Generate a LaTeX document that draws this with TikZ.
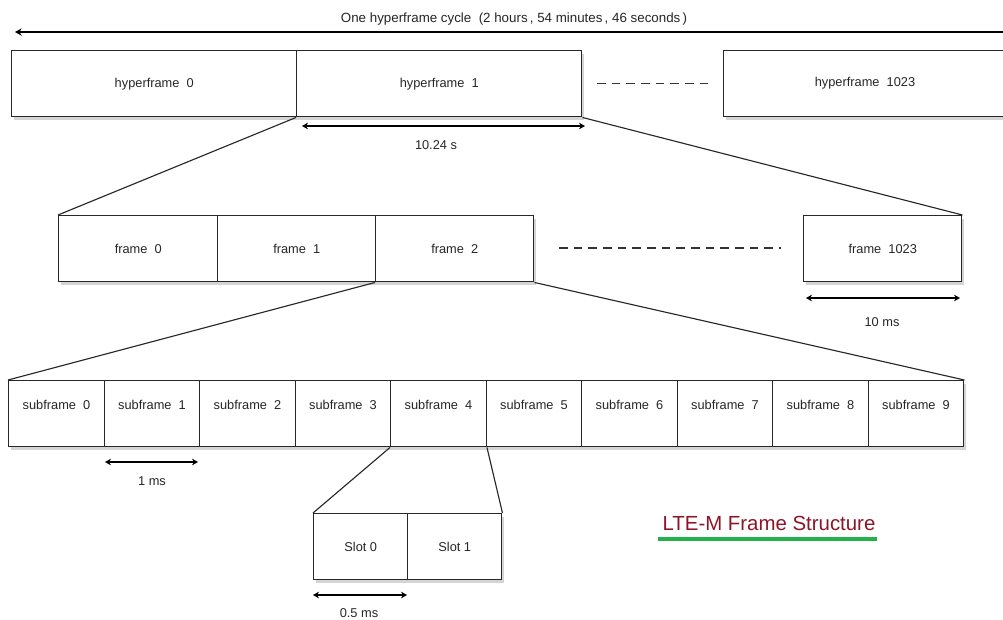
\documentclass[tikz,border=0pt]{standalone}
\usepackage{fontspec}
\setmainfont{Liberation Sans}
\usetikzlibrary{shadows,arrows.meta}
\definecolor{edge}{RGB}{40,40,40}
\definecolor{titlered}{RGB}{140,22,40}
\definecolor{ulgreen}{RGB}{34,177,76}
\tikzset{
  fr/.style={draw=edge, line width=1.1pt, fill=white, inner sep=0pt, anchor=north west,
    minimum height=49.5pt, minimum width={#1*0.75pt}, text=black!85,
    font=\fontsize{9.6}{11}\selectfont,
    drop shadow={shadow xshift=2pt, shadow yshift=-2.2pt, opacity=0.3, fill=black!55}},
  sfr/.style={fr=#1, text height=7pt, text depth=13.5pt},
  link/.style={draw=edge, line width=0.85pt},
  dim/.style={draw=black, line width=1pt, {Stealth[length=4.5pt,width=5pt]}-{Stealth[length=4.5pt,width=5pt]}},
  dimlbl/.style={font=\fontsize{9.6}{11}\selectfont, text=black!85, inner sep=1pt},
  dots/.style={draw=black!80, line width=0.9pt, dash pattern=on 6.5pt off 4.5pt},
}
\begin{document}
\begin{tikzpicture}[x=0.75pt, y=-0.75pt]
\clip (0,0) rectangle (1003,619);
\fill[white] (0,0) rectangle (1003,619);
% top cycle arrow
\coordinate (cycR) at (1010,32);
\coordinate (cycL) at (15,32);
\draw[line width=1pt, -{Stealth[length=5pt,width=5.5pt]}] (cycR) -- (cycL);
\node[dimlbl, font=\fontsize{10}{12}\selectfont] (cyc) at (514,19) {One hyperframe cycle~~(2 hours\,, 54 minutes\,, 46 seconds\,)};
% hyperframes
\node[fr=285] (hf0) at (11,50) {hyperframe~~0};
\node[fr=285] (hf1) at (296,50) {hyperframe~~1};
\node[fr=300] (hf1023) at (723,50) {};
\node[dimlbl] (hf1023t) at (865,83) {hyperframe~~1023};
\draw[dots] (hf1.east -| 597,0) -- (hf1.east -| 711,0);
\coordinate (hfa) at (302,126);
\coordinate (hfb) at (585,126);
\draw[dim] (hfa) -- (hfb);
\node[dimlbl] (hfl) at (436,145) {10.24 s};
% frames
\node[fr=159] (f0) at (58,215) {frame~~0};
\node[fr=158] (f1) at (217,215) {frame~~1};
\node[fr=158] (f2) at (375,215) {frame~~2};
\node[fr=158] (f1023) at (803,215) {frame~~1023};
\draw[link] (hf1.south west) -- (f0.north west);
\draw[link] (hf1.south east) -- (f1023.north east);
\coordinate (fdA) at (559,248);
\coordinate (fdB) at (781,248);
\draw[dots] (fdA) -- (fdB);
\coordinate (fa) at (806,298);
\coordinate (fb) at (960,298);
\draw[dim] (fa) -- (fb);
\node[dimlbl] (fl) at (882,322) {10 ms};
% subframes
\foreach \i in {0,...,9} {
  \node[sfr=95.5] (sf\i) at ({8+95.5*\i},380) {subframe~~\i};
}
\draw[link] (f2.south west) -- (sf0.north west);
\draw[link] (f2.south east) -- (sf9.north east);
\coordinate (sa) at (105,462);
\coordinate (sb) at (198,462);
\draw[dim] (sa) -- (sb);
\node[dimlbl] (sl) at (152,481) {1 ms};
% slots
\node[fr=94] (s0) at (313,513) {Slot 0};
\node[fr=94] (s1) at (407,513) {Slot 1};
\draw[link] (sf4.south west) -- (s0.north west);
\draw[link] (sf4.south east) -- (s1.north east);
\coordinate (ta) at (313,595);
\coordinate (tb) at (407,595);
\draw[dim] (ta) -- (tb);
\node[dimlbl] (tl) at (359,613) {0.5 ms};
% title
\node[font=\fontsize{15.3}{18}\selectfont, text=titlered, inner sep=0pt] (title) at (769,523) {LTE-M Frame Structure};
\coordinate (ulA) at (658,539);
\coordinate (ulB) at (877,539);
\draw[ulgreen, line width=2.3pt] (ulA) -- (ulB);
\end{tikzpicture}
\end{document}
